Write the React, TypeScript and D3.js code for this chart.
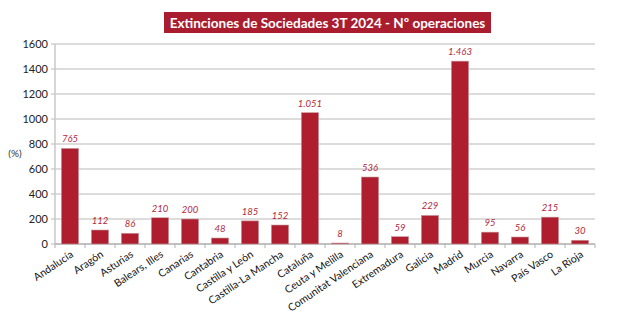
import React from "react";
import * as d3 from "d3";

const categories = [
  "Andalucía", "Aragón", "Asturias", "Balears, Illes", "Canarias", "Cantabria",
  "Castilla y León", "Castilla-La Mancha", "Cataluña", "Ceuta y Melilla",
  "Comunitat Valenciana", "Extremadura", "Galicia", "Madrid", "Murcia",
  "Navarra", "País Vasco", "La Rioja",
];
const values = [765, 112, 86, 210, 200, 48, 185, 152, 1051, 8, 536, 59, 229, 1463, 95, 56, 215, 30];
const yTicks = [0, 200, 400, 600, 800, 1000, 1200, 1400, 1600];
const title = "Extinciones de Sociedades 3T 2024 - Nº operaciones";
const yLabel = "(%)";

const W = 621, H = 330;
const left = 55, right = 595, top = 44, bottom = 244;
const font = "Lato, 'Open Sans', sans-serif";
const fmt = (v: number) => d3.format(",")(v).replace(/,/g, ".");

export default function App() {
  const x = d3.scaleBand<string>().domain(categories).range([left, right]).paddingInner(0.42).paddingOuter(0.21);
  const xb = d3.scaleBand<string>().domain(categories).range([left, right]);
  const y = d3.scaleLinear().domain([0, 1600]).range([bottom, top]);
  return (
    <svg width={W} height={H} style={{ position: "absolute", left: 0, top: 0, background: "#fff" }}>
      <rect x={164} y={12} width={327} height={21} fill="#A91D2F" />
      <text x={327.5} y={27.5} textAnchor="middle" fill="#fff" fontFamily={font} fontWeight="bold" fontSize={13.5}>{title}</text>
      {yTicks.map((t) => (
        <g key={t}>
          <line x1={left - 4} x2={right} y1={y(t)} y2={y(t)} stroke="#d0d0d0" strokeWidth={1.5} />
          <text x={48} y={y(t) + 4} textAnchor="end" fontFamily={font} fontSize={11} fill="#222">{t}</text>
        </g>
      ))}
      <line x1={left} x2={left} y1={top} y2={bottom} stroke="#c8c8c8" strokeWidth={1.5} />
      <line x1={left} x2={right} y1={bottom} y2={bottom} stroke="#b8b8b8" strokeWidth={1.5} />
      {categories.map((c, i) => (
        <line key={"t" + i} x1={xb(c)!} x2={xb(c)!} y1={bottom} y2={bottom + 4} stroke="#b0b0b0" strokeWidth={1} />
      ))}
      <line x1={right} x2={right} y1={bottom} y2={bottom + 4} stroke="#b0b0b0" strokeWidth={1} />
      <text x={15} y={157} textAnchor="middle" fontFamily={font} fontSize={10} fill="#333">{yLabel}</text>
      {categories.map((c, i) => (
        <g key={c}>
          <rect x={x(c)!} y={y(values[i])} width={x.bandwidth()} height={bottom - y(values[i])} fill="#AE1E2F" stroke="#c9a0a5" strokeWidth={0.6} />
          <text x={x(c)! + x.bandwidth() / 2} y={y(values[i]) - 6} textAnchor="middle" fontFamily={font} fontStyle="italic" fontSize={9.5} fill="#B5283B">{fmt(values[i])}</text>
          <text transform={`translate(${xb(c)! + xb.bandwidth() / 2 + 4},${bottom + 12}) rotate(-34)`} textAnchor="end" fontFamily={font} fontSize={10.5} fill="#111">{c}</text>
        </g>
      ))}
    </svg>
  );
}
